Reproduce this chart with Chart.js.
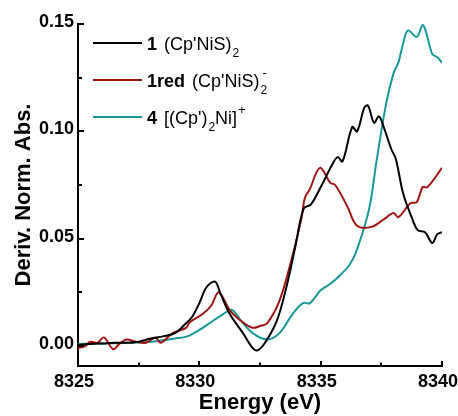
<!DOCTYPE html>
<html><head><meta charset="utf-8">
<script src="https://cdn.jsdelivr.net/npm/chart.js@4.4.0/dist/chart.umd.min.js"></script>
<style>html,body{margin:0;padding:0;background:#fff}</style>
</head><body>
<canvas id="c" width="458" height="416"></canvas>
<script>
// ---- data ----
const xTickValues = [8325, 8330, 8335, 8340];
const xTickLabels = ['8325', '8330', '8335', '8340'];
const yTickValues = [0, 0.05, 0.10, 0.15];
const yTickLabels = ['0.00', '0.05', '0.10', '0.15'];
const xMinorTicks = [8327.5, 8332.5, 8337.5];
const yMinorTicks = [0.025, 0.075, 0.125];

const energy1 = [8325, 8325.5, 8326, 8326.5, 8327, 8327.5, 8328, 8328.5, 8329, 8329.4, 8329.7, 8330.0, 8330.3, 8330.65, 8330.85, 8331.25, 8331.8, 8332.2, 8332.4, 8332.7, 8333.2, 8333.6, 8333.95, 8334.3, 8334.6, 8335.0, 8335.5, 8335.7, 8335.9, 8336.3, 8336.5, 8336.8, 8336.95, 8337.2, 8337.4, 8337.6, 8337.9, 8338.1, 8338.4, 8338.75, 8339.0, 8339.3, 8339.6, 8339.8, 8340];
const deriv1  = [0.0005, 0.001, 0.0012, 0.0015, 0.0015, 0.002, 0.0035, 0.0045, 0.006, 0.010, 0.0135, 0.020, 0.0275, 0.030, 0.025, 0.015, 0.006, -0.001, -0.002, 0.0014, 0.012, 0.028, 0.046, 0.064, 0.066, 0.074, 0.085, 0.088, 0.086, 0.102, 0.100, 0.111, 0.112, 0.104, 0.107, 0.102, 0.092, 0.087, 0.071, 0.060, 0.054, 0.053, 0.048, 0.052, 0.053];

const energy1red = [8325, 8325.3, 8325.5, 8325.8, 8326.07, 8326.45, 8326.7, 8327.0, 8327.4, 8327.8, 8328.2, 8328.4, 8328.9, 8329.45, 8329.6, 8330.15, 8330.5, 8330.8, 8331.3, 8331.8, 8332.2, 8332.5, 8332.8, 8333.3, 8333.86, 8334.2, 8334.35, 8334.55, 8334.97, 8335.4, 8335.6, 8336.1, 8336.5, 8337.1, 8337.6, 8338.0, 8338.2, 8338.7, 8338.96, 8339.2, 8339.4, 8340];
const deriv1red  = [-0.001, 0.000, 0.002, 0.0015, 0.004, -0.0015, 0.001, 0.003, 0.002, 0.0015, 0.004, 0.0015, 0.006, 0.0085, 0.011, 0.015, 0.019, 0.025, 0.016, 0.011, 0.0085, 0.0093, 0.0107, 0.021, 0.043, 0.059, 0.069, 0.073, 0.083, 0.076, 0.075, 0.065, 0.056, 0.0555, 0.059, 0.062, 0.060, 0.0665, 0.067, 0.074, 0.074, 0.083];

const energy4 = [8325, 8326, 8327, 8328, 8329, 8329.5, 8330.0, 8330.6, 8331.0, 8331.35, 8331.7, 8332.2, 8332.8, 8333.3, 8333.85, 8334.27, 8334.56, 8335.0, 8335.4, 8335.8, 8336.2, 8336.5, 8337.0, 8337.3, 8337.7, 8338.0, 8338.2, 8338.4, 8338.6, 8338.96, 8339.2, 8339.35, 8339.6, 8339.8, 8340];
const deriv4  = [0.001, 0.0012, 0.0015, 0.002, 0.0035, 0.0045, 0.0075, 0.012, 0.015, 0.0168, 0.012, 0.006, 0.003, 0.006, 0.015, 0.020, 0.020, 0.026, 0.029, 0.033, 0.038, 0.045, 0.064, 0.086, 0.113, 0.127, 0.132, 0.141, 0.147, 0.144, 0.1495, 0.146, 0.136, 0.1346, 0.132];

const seriesColors = ['#000000', '#a01414', '#17979a'];
const legendRows = [
  [{t: '1', b: true}, {t: "(Cp'NiS)"}, {t: '2', sub: true}],
  [{t: '1red', b: true}, {t: "(Cp'NiS)"}, {t: '2', sub: true}, {t: '-', sup: true}],
  [{t: '4', b: true}, {t: "[(Cp')"}, {t: '2', sub: true}, {t: 'Ni]'}, {t: '+', sup: true}]
];

const FAM = '"Liberation Sans", Arial, Helvetica, sans-serif';
const pts = (xs, ys) => xs.map((x, i) => ({x: x, y: ys[i]}));

const decor = {
  id: 'decor',
  afterDraw(chart) {
    const ctx = chart.ctx, xs = chart.scales.x, ys = chart.scales.y, a = chart.chartArea;
    ctx.save();
    ctx.strokeStyle = '#000';
    ctx.lineWidth = 2;
    ctx.beginPath();
    xTickValues.forEach(v => { const p = Math.round(xs.getPixelForValue(v)); ctx.moveTo(p, a.bottom); ctx.lineTo(p, a.bottom - 5); });
    xMinorTicks.forEach(v => { const p = Math.round(xs.getPixelForValue(v)); ctx.moveTo(p, a.bottom); ctx.lineTo(p, a.bottom - 3.5); });
    yTickValues.forEach(v => { const p = Math.round(ys.getPixelForValue(v)); ctx.moveTo(a.left, p); ctx.lineTo(a.left + 6, p); });
    yMinorTicks.forEach(v => { const p = Math.round(ys.getPixelForValue(v)); ctx.moveTo(a.left, p); ctx.lineTo(a.left + 4, p); });
    ctx.stroke();

    // legend
    const rowY = [43, 80, 117];
    ctx.textBaseline = 'alphabetic';
    ctx.fillStyle = '#000';
    legendRows.forEach((segs, r) => {
      const y = rowY[r];
      ctx.strokeStyle = seriesColors[r];
      ctx.lineWidth = 2;
      ctx.beginPath(); ctx.moveTo(93, y); ctx.lineTo(142, y); ctx.stroke();
      let x = 147, subStart = null;
      segs.forEach((s, i) => {
        if (s.sub) {
          ctx.font = '12px ' + FAM;
          x += 1;
          ctx.fillText(s.t, x, y + 14);
          subStart = x; x += ctx.measureText(s.t).width;
        } else if (s.sup) {
          ctx.font = '13px ' + FAM;
          const sx = (segs[i - 1] && segs[i - 1].sub) ? subStart + 2 : x + 1;
          ctx.fillText(s.t, sx, y - 3);
          x = Math.max(x, sx + ctx.measureText(s.t).width);
        } else {
          ctx.font = (s.b ? 'bold ' : '') + '18px ' + FAM;
          ctx.fillText(s.t, x, y + 7);
          x += ctx.measureText(s.t).width + (s.b ? 7 : 0);
        }
      });
    });
    ctx.restore();
  }
};

new Chart(document.getElementById('c'), {
  type: 'line',
  data: {
    datasets: [
      {data: pts(energy1, deriv1), borderColor: seriesColors[0]},
      {data: pts(energy1red, deriv1red), borderColor: seriesColors[1]},
      {data: pts(energy4, deriv4), borderColor: seriesColors[2]}
    ]
  },
  options: {
    responsive: false,
    animation: false,
    devicePixelRatio: 1,
    elements: {
      line: {borderWidth: 2, tension: 0.35, fill: false},
      point: {radius: 0, hoverRadius: 0}
    },
    layout: {padding: {top: 24, right: 16, left: 0, bottom: 0}},
    plugins: {legend: {display: false}, tooltip: {enabled: false}},
    scales: {
      x: {
        type: 'linear', min: 8325, max: 8340,
        grid: {display: false, drawTicks: false},
        border: {display: true, color: '#000', width: 2},
        afterBuildTicks: s => { s.ticks = xTickValues.map(v => ({value: v})); },
        afterFit: s => { s.height = 50; s.paddingLeft = 0; s.paddingRight = 0; },
        ticks: {
          color: '#000', padding: 5, labelOffset: -4, maxRotation: 0, autoSkip: false,
          font: {family: FAM, size: 18, weight: 'bold'},
          callback: (v) => xTickLabels[xTickValues.indexOf(v)]
        },
        title: {display: true, text: 'Energy (eV)', color: '#000', font: {family: FAM, size: 22, weight: 'bold'}, padding: {top: 0, bottom: 0}}
      },
      y: {
        type: 'linear', min: -0.0093, max: 0.15,
        grid: {display: false, drawTicks: false},
        border: {display: true, color: '#000', width: 2},
        afterBuildTicks: s => { s.ticks = yTickValues.map(v => ({value: v})); },
        afterFit: s => { s.width = 78; s.paddingTop = 0; s.paddingBottom = 0; },
        ticks: {
          color: '#000', padding: 4, labelOffset: -2, autoSkip: false,
          font: {family: FAM, size: 18, weight: 'bold'},
          callback: (v) => yTickLabels[yTickValues.indexOf(v)]
        },
        title: {display: true, text: 'Deriv. Norm. Abs.', color: '#000', font: {family: FAM, size: 22, weight: 'bold'}, padding: {top: 11, bottom: 0}}
      }
    }
  },
  plugins: [decor]
});
</script>
</body></html>
